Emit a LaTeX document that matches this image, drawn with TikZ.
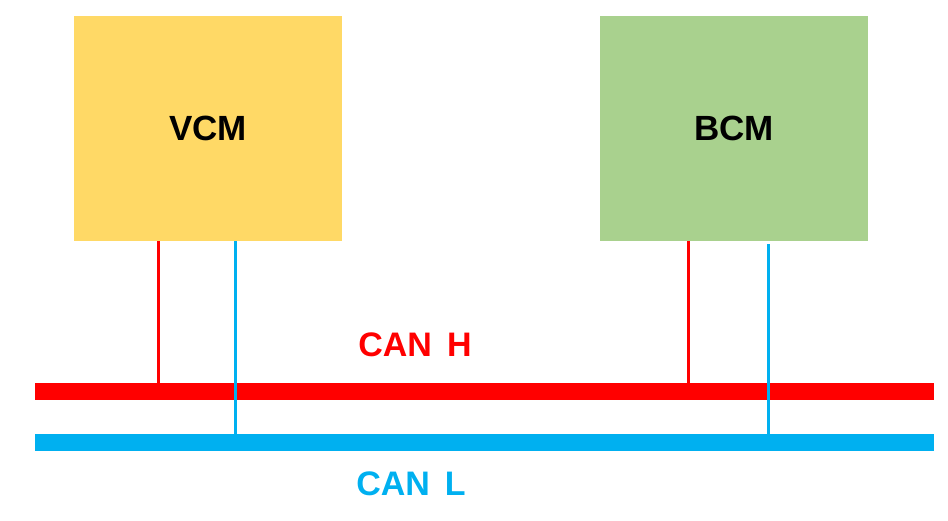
\documentclass[tikz,border=0pt]{standalone}
\usepackage{fontspec}
\setmainfont{Liberation Sans}
\definecolor{vcmyellow}{HTML}{FFD966}
\definecolor{bcmgreen}{HTML}{A9D18E}
\definecolor{canred}{HTML}{FF0000}
\definecolor{canblue}{HTML}{00B0F0}
\begin{document}
\begin{tikzpicture}[x=1pt,y=-1pt,
  ecu/.style={minimum width=268pt,minimum height=225pt,inner sep=0pt,font=\bfseries\fontsize{35}{40}\selectfont},
  wireh/.style={draw=canred,line width=3pt},
  wirel/.style={draw=canblue,line width=3pt},
  lbl/.style={font=\bfseries\fontsize{34}{40}\selectfont,inner sep=0pt}]
\useasboundingbox (0,0) rectangle (948,520);
\node[ecu,fill=vcmyellow] (vcm) at (208,128.5) {VCM};
\node[ecu,fill=bcmgreen] (bcm) at (734,128.5) {BCM};
\fill[canred] (35,383) rectangle (934,400);
\fill[canblue] (35,434) rectangle (934,451);
\coordinate (h1) at (158,383);
\coordinate (l1) at (235,434);
\coordinate (h2) at (688,383);
\coordinate (l2) at (768,434);
\coordinate (vh) at (158,241);
\coordinate (vl) at (235,241);
\coordinate (bh) at (688,241);
\coordinate (bl) at (768,244);
\draw[wireh] (vh) -- (h1);
\draw[wirel] (vl) -- (l1);
\draw[wireh] (bh) -- (h2);
\draw[wirel] (bl) -- (l2);
\node[lbl,text=canred] (canh) at (415,345) {CAN\hspace{15pt}H};
\node[lbl,text=canblue] (canl) at (411,484) {CAN\hspace{15pt}L};
\end{tikzpicture}
\end{document}
